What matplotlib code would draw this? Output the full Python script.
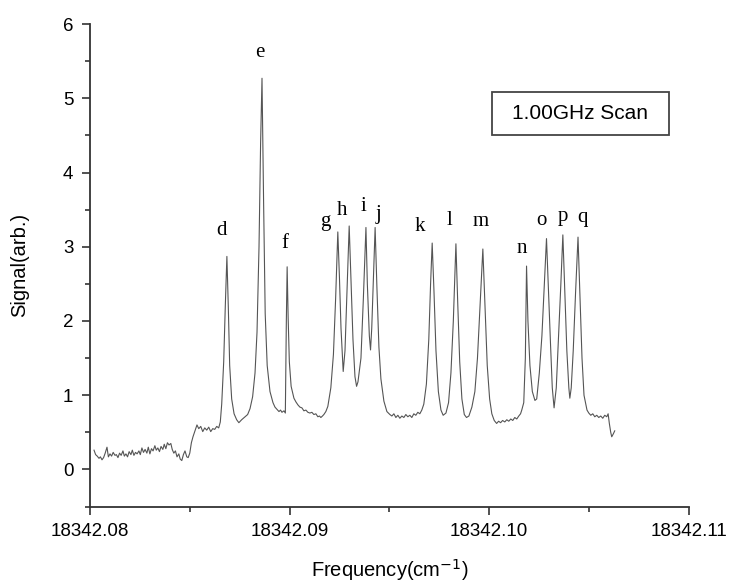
import numpy as np
import matplotlib
matplotlib.use('Agg')
import matplotlib.pyplot as plt
from matplotlib.patches import Rectangle
from matplotlib.ticker import MultipleLocator, FormatStrFormatter

plt.rcParams['font.family'] = ['Liberation Sans', 'DejaVu Sans']

# 频率起点与偏移（单位 1e-3 cm^-1）
f0 = 18342.08
offset = [
    0.20, 0.28, 0.36, 0.45, 0.52, 0.60, 0.68, 0.76, 0.85, 0.92, 1.00, 1.08, 1.16, 1.25,
    1.32, 1.40, 1.48, 1.56, 1.65, 1.72, 1.80, 1.88, 1.96, 2.05, 2.12, 2.20, 2.28, 2.36,
    2.45, 2.52, 2.60, 2.68, 2.76, 2.85, 2.92, 3.00, 3.08, 3.16, 3.25, 3.32, 3.40, 3.48,
    3.56, 3.65, 3.72, 3.80, 3.88, 3.96, 4.05, 4.12, 4.20, 4.28, 4.36, 4.45, 4.52, 4.60,
    4.68, 4.76, 4.85, 4.92, 5.00, 5.08, 5.16, 5.26, 5.36, 5.45, 5.55, 5.65, 5.75, 5.85,
    5.95, 6.05, 6.15, 6.25, 6.35, 6.45, 6.53,
    # d
    6.60, 6.70, 6.78, 6.86, 6.93, 7.00, 7.10, 7.22, 7.35, 7.46, 7.60, 7.77, 7.90, 8.02,
    # e
    8.15, 8.27, 8.37, 8.47, 8.55, 8.62, 8.70, 8.78, 8.88, 9.02, 9.17, 9.27, 9.37, 9.47,
    9.55, 9.62, 9.72, 9.79,
    # f
    9.84, 9.88, 9.93, 9.99, 10.08, 10.22, 10.32, 10.42, 10.52, 10.62, 10.72, 10.82,
    10.92, 11.02, 11.12, 11.22, 11.32, 11.42, 11.50, 11.57, 11.65, 11.72, 11.82, 11.92,
    # g h i j
    12.07, 12.20, 12.31, 12.42, 12.50, 12.58, 12.69, 12.78, 12.88, 12.99, 13.08, 13.18,
    13.28, 13.36, 13.43, 13.58, 13.70, 13.83, 13.90, 14.00, 14.06, 14.12, 14.22, 14.29,
    14.38, 14.48, 14.58, 14.73, 14.88, 15.03, 15.13, 15.23, 15.33, 15.43, 15.53, 15.63,
    15.73, 15.83, 15.93, 16.03, 16.13, 16.23, 16.33, 16.43, 16.53, 16.63, 16.73,
    # k l m
    16.86, 16.98, 17.07, 17.15, 17.24, 17.34, 17.46, 17.59, 17.70, 17.84, 17.97, 18.09,
    18.21, 18.34, 18.43, 18.53, 18.64, 18.76, 18.87, 18.99, 19.14, 19.29, 19.42, 19.55,
    19.69, 19.80, 19.91, 20.03, 20.14, 20.26, 20.38, 20.48, 20.58, 20.68, 20.79, 20.89,
    20.99, 21.09, 21.19, 21.29, 21.39, 21.49, 21.58, 21.64, 21.74,
    # n o p q
    21.82, 21.88, 21.95, 22.05, 22.17, 22.30, 22.39, 22.52, 22.65, 22.77, 22.88, 22.98,
    23.08, 23.17, 23.26, 23.37, 23.47, 23.60, 23.70, 23.80, 23.90, 24.00, 24.05, 24.12,
    24.22, 24.34, 24.46, 24.56, 24.66, 24.76, 24.91, 25.00, 25.10, 25.20, 25.30, 25.40,
    25.50, 25.60, 25.70, 25.80, 25.90, 25.97, 26.03, 26.10, 26.15, 26.23, 26.30,
]
signal = [
    0.26, 0.20, 0.18, 0.15, 0.17, 0.13, 0.16, 0.22, 0.30, 0.17, 0.21, 0.18, 0.23, 0.19,
    0.20, 0.16, 0.22, 0.19, 0.25, 0.18, 0.21, 0.17, 0.24, 0.20, 0.26, 0.19, 0.23, 0.21,
    0.25, 0.20, 0.29, 0.23, 0.27, 0.22, 0.30, 0.21, 0.28, 0.25, 0.32, 0.26, 0.29, 0.24,
    0.31, 0.27, 0.34, 0.28, 0.36, 0.33, 0.35, 0.27, 0.22, 0.25, 0.17, 0.21, 0.14, 0.12,
    0.20, 0.25, 0.17, 0.16, 0.22, 0.36, 0.44, 0.52, 0.60, 0.55, 0.58, 0.51, 0.56, 0.53,
    0.57, 0.51, 0.55, 0.54, 0.58, 0.56, 0.64,
    # d
    0.88, 1.45, 2.20, 2.87, 2.20, 1.40, 0.95, 0.75, 0.67, 0.63, 0.67, 0.71, 0.74, 0.82,
    # e
    0.98, 1.30, 1.85, 3.00, 4.40, 5.27, 3.60, 2.10, 1.40, 1.05, 0.90, 0.84, 0.81, 0.78,
    0.80, 0.77, 0.79, 0.76,
    # f
    2.00, 2.73, 2.05, 1.45, 1.12, 0.96, 0.91, 0.87, 0.84, 0.83, 0.79, 0.80, 0.77, 0.76,
    0.77, 0.74, 0.75, 0.71, 0.72, 0.70, 0.72, 0.74, 0.78, 0.85,
    # g h i j
    1.10, 1.55, 2.30, 3.20, 2.60, 1.90, 1.32, 1.60, 2.40, 3.28, 2.55, 1.75, 1.25, 1.12,
    1.18, 1.50, 2.30, 3.26, 2.50, 1.80, 1.61, 1.90, 2.70, 3.26, 2.45, 1.65, 1.22, 0.92,
    0.78, 0.74, 0.72, 0.75, 0.70, 0.73, 0.69, 0.72, 0.70, 0.74, 0.71, 0.73, 0.70, 0.75,
    0.73, 0.77, 0.75, 0.80, 0.88,
    # k l m
    1.15, 1.75, 2.50, 3.05, 2.40, 1.60, 1.05, 0.80, 0.73, 0.76, 0.90, 1.30, 2.00, 3.04,
    2.25, 1.45, 0.95, 0.74, 0.70, 0.72, 0.84, 1.05, 1.50, 2.20, 2.97, 2.20, 1.40, 0.95,
    0.75, 0.66, 0.62, 0.65, 0.63, 0.66, 0.64, 0.67, 0.65, 0.68, 0.66, 0.70, 0.68, 0.72,
    0.75, 0.80, 0.90,
    # n o p q
    1.50, 2.74, 2.00, 1.40, 1.05, 0.93, 0.95, 1.30, 1.80, 2.50, 3.11, 2.40, 1.70, 1.10,
    0.83, 1.10, 1.70, 2.50, 3.16, 2.40, 1.60, 1.10, 0.96, 1.10, 1.60, 2.40, 3.13, 2.30,
    1.50, 1.00, 0.80, 0.76, 0.73, 0.75, 0.71, 0.73, 0.70, 0.72, 0.69, 0.73, 0.71, 0.75,
    0.62, 0.50, 0.44, 0.48, 0.52,
]

# 峰标注
peak_names = list('defghijklmnopq')
label_off = [6.61, 8.52, 9.75, 11.81, 12.61, 13.69, 14.44, 16.53, 18.04, 19.59,
             21.66, 22.63, 23.68, 24.66]
label_y = [3.22, 5.62, 3.05, 3.34, 3.49, 3.54, 3.43, 3.27, 3.36, 3.34,
           2.98, 3.36, 3.41, 3.40]

freq = f0 + np.array(offset) * 1e-3
lab_x = f0 + np.array(label_off) * 1e-3

fig = plt.figure(figsize=(7.29, 5.87), dpi=100)
ax = fig.add_axes([0.1235, 0.137, 0.821, 0.822])

ax.plot(freq, signal, color='#555555', lw=0.8)

for name, x, y in zip(peak_names, lab_x, label_y):
    ax.text(x, y, name, ha='center', va='center', fontsize=15,
            family=['Liberation Serif', 'DejaVu Serif'])

# 扫描范围标注框
ax.add_patch(Rectangle((0.671, 0.770), 0.296, 0.089, transform=ax.transAxes,
                       fc='white', ec='#444444', lw=1.3))
ax.text(0.819, 0.815, '1.00GHz Scan', transform=ax.transAxes, ha='center', va='center',
        fontsize=15)

ax.set_xlim(18342.08, 18342.11)
ax.set_ylim(-0.5, 6)
ax.xaxis.set_major_locator(MultipleLocator(0.01))
ax.xaxis.set_minor_locator(MultipleLocator(0.005))
ax.xaxis.set_major_formatter(FormatStrFormatter('%.2f'))
ax.yaxis.set_major_locator(MultipleLocator(1))
ax.yaxis.set_minor_locator(MultipleLocator(0.5))

for s in ['top', 'right']:
    ax.spines[s].set_visible(False)
for s in ['left', 'bottom']:
    ax.spines[s].set_color('#333333')
    ax.spines[s].set_linewidth(1.3)
ax.tick_params(which='major', direction='out', length=6, width=1.2, color='#333333',
               labelsize=13.5, pad=6)
ax.tick_params(which='minor', direction='out', length=3.5, width=1.2, color='#333333')

ax.set_xlabel('Frequency(cm$^{-1}$)', fontsize=14.5, labelpad=12)
ax.set_ylabel('Signal(arb.)', fontsize=14.5, labelpad=24)

plt.savefig('out.png', dpi=100)
